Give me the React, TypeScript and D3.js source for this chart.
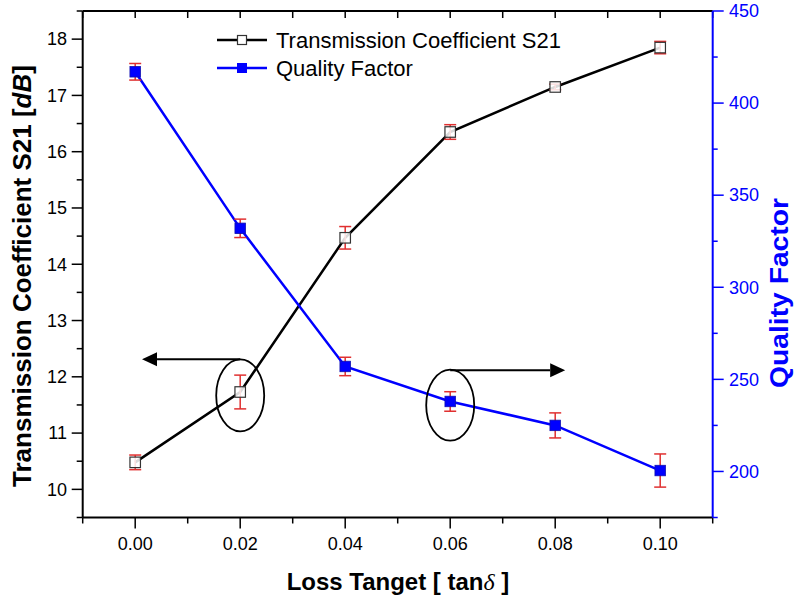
import React from "react";
import * as d3 from "d3";

// ---- data ----
const lossTangent = [0, 0.02, 0.04, 0.06, 0.08, 0.1];
const s21 = [10.48, 11.73, 14.47, 16.35, 17.15, 17.85];
const s21Err = [0.13, 0.3, 0.2, 0.13, 0.05, 0.11];
const qFactor = [417, 332, 257, 238, 225, 200.5];
const qErr = [4.5, 5, 5, 5.3, 6.8, 9];

const xMajor = [0, 0.02, 0.04, 0.06, 0.08, 0.1];
const xLabels = ["0.00", "0.02", "0.04", "0.06", "0.08", "0.10"];
const xMinor = [-0.01, 0.01, 0.03, 0.05, 0.07, 0.09, 0.11];
const leftMajor = [10, 11, 12, 13, 14, 15, 16, 17, 18];
const leftMinor = [9.5, 10.5, 11.5, 12.5, 13.5, 14.5, 15.5, 16.5, 17.5, 18.5];
const rightMajor = [200, 250, 300, 350, 400, 450];
const rightMinor = [175, 225, 275, 325, 375, 425];

// annotations: ellipse around a point, arrow pointing to its axis
const annS21 = { x: 0.02, cy: 11.67, ry: 0.64, arrowY: 12.31, tipX: 0.0013 };
const annQ = { x: 0.06, cy: 236, ry: 19.3, arrowY: 255, tipX: 0.0819 };

const FONT = "'Liberation Sans', Arial, Helvetica, sans-serif";
const BLUE = "#0000ff";
const RED = "#e03030";

export default function App() {
  const L = 82.7, R = 712.7, T = 11, B = 517.5;
  const x = d3.scaleLinear().domain([-0.01, 0.11]).range([L, R]);
  const yL = d3.scaleLinear().domain([9.5, 18.5]).range([B, T]);
  const yR = d3.scaleLinear().domain([175, 450]).range([B, T]);

  const lineS = d3.line<number>().x((_, i) => x(lossTangent[i])).y((d) => yL(d));
  const lineQ = d3.line<number>().x((_, i) => x(lossTangent[i])).y((d) => yR(d));

  const cap = 6;
  const ms = 10.5;

  const arrow = (x0: number, y0: number, tip: number, color: string) => {
    const dir = tip < x0 ? -1 : 1;
    const base = tip - dir * 15;
    return (
      <g>
        <line x1={x0} y1={y0} x2={base} y2={y0} stroke={color} strokeWidth={2} />
        <path d={`M${tip},${y0} L${base},${y0 - 7} L${base},${y0 + 7} Z`} fill={color} />
      </g>
    );
  };

  return (
    <svg width={800} height={600} style={{ position: "absolute", left: 0, top: 0, background: "#fff" }} fontFamily={FONT}>
      <rect x={0} y={0} width={800} height={600} fill="#fff" />
      {/* top frame with inward ticks */}
      <line x1={L} y1={T} x2={R} y2={T} stroke="#000" strokeWidth={2} />
      {[...xMajor, ...xMinor].map((v, i) => (
        <line key={"tt" + i} x1={x(v)} x2={x(v)} y1={T} y2={T + 7} stroke="#000" strokeWidth={1.5} />
      ))}
      {/* bottom axis */}
      <line x1={L} y1={B} x2={R} y2={B} stroke="#000" strokeWidth={2} />
      {xMajor.map((v, i) => (
        <g key={"xm" + i}>
          <line x1={x(v)} x2={x(v)} y1={B} y2={B + 11} stroke="#000" strokeWidth={1.5} />
          <text x={x(v)} y={550} textAnchor="middle" fontSize={18} fill="#000">{xLabels[i]}</text>
        </g>
      ))}
      {xMinor.map((v, i) => (
        <line key={"xn" + i} x1={x(v)} x2={x(v)} y1={B} y2={B + 6} stroke="#000" strokeWidth={1.5} />
      ))}
      {/* left axis */}
      <line x1={L} y1={T} x2={L} y2={B} stroke="#000" strokeWidth={2} />
      {leftMajor.map((v, i) => (
        <g key={"lm" + i}>
          <line x1={L - 11} x2={L} y1={yL(v)} y2={yL(v)} stroke="#000" strokeWidth={1.5} />
          <text x={67} y={yL(v)} dy="0.35em" textAnchor="end" fontSize={18} fill="#000">{v}</text>
        </g>
      ))}
      {leftMinor.map((v, i) => (
        <line key={"ln" + i} x1={L - 6} x2={L} y1={yL(v)} y2={yL(v)} stroke="#000" strokeWidth={1.5} />
      ))}
      {/* right axis */}
      <line x1={R} y1={T} x2={R} y2={B} stroke={BLUE} strokeWidth={2} />
      {rightMajor.map((v, i) => (
        <g key={"rm" + i}>
          <line x1={R} x2={R + 11} y1={yR(v)} y2={yR(v)} stroke={BLUE} strokeWidth={1.5} />
          <text x={729} y={yR(v)} dy="0.35em" textAnchor="start" fontSize={18} fill={BLUE}>{v}</text>
        </g>
      ))}
      {rightMinor.map((v, i) => (
        <line key={"rn" + i} x1={R} x2={R + 5} y1={yR(v)} y2={yR(v)} stroke={BLUE} strokeWidth={1.5} />
      ))}

      {/* axis titles */}
      <text transform={`translate(31,${276}) rotate(-90)`} textAnchor="middle" fontSize={26} fontWeight="bold" fill="#000">
        Transmission Coefficient S21 [<tspan fontStyle="italic">dB</tspan>]
      </text>
      <text x={398} y={590} textAnchor="middle" fontSize={24} fontWeight="bold" fill="#000">
        Loss Tanget [ tan<tspan fontFamily="'Liberation Serif', serif" fontStyle="italic" fontWeight="normal">δ</tspan> ]
      </text>
      <text transform={`translate(788,${293}) rotate(-90)`} textAnchor="middle" fontSize={26} fontWeight="bold" fill={BLUE} textLength={190} lengthAdjust="spacingAndGlyphs">
        Quality Factor
      </text>

      {/* lines */}
      <path d={lineS(s21) || ""} fill="none" stroke="#000" strokeWidth={2.5} />
      <path d={lineQ(qFactor) || ""} fill="none" stroke={BLUE} strokeWidth={2.5} />

      {/* error bars */}
      {s21.map((v, i) => {
        const cx = x(lossTangent[i]);
        return (
          <g key={"es" + i} stroke={RED} strokeWidth={1.5}>
            <line x1={cx} x2={cx} y1={yL(v - s21Err[i])} y2={yL(v + s21Err[i])} />
            <line x1={cx - cap} x2={cx + cap} y1={yL(v - s21Err[i])} y2={yL(v - s21Err[i])} />
            <line x1={cx - cap} x2={cx + cap} y1={yL(v + s21Err[i])} y2={yL(v + s21Err[i])} />
          </g>
        );
      })}
      {qFactor.map((v, i) => {
        const cx = x(lossTangent[i]);
        return (
          <g key={"eq" + i} stroke={RED} strokeWidth={1.5}>
            <line x1={cx} x2={cx} y1={yR(v - qErr[i])} y2={yR(v + qErr[i])} />
            <line x1={cx - cap} x2={cx + cap} y1={yR(v - qErr[i])} y2={yR(v - qErr[i])} />
            <line x1={cx - cap} x2={cx + cap} y1={yR(v + qErr[i])} y2={yR(v + qErr[i])} />
          </g>
        );
      })}

      {/* markers */}
      {s21.map((v, i) => (
        <rect key={"ms" + i} x={x(lossTangent[i]) - ms / 2} y={yL(v) - ms / 2} width={ms} height={ms} fill="#fff" fillOpacity={0.85} stroke="#333" strokeWidth={1.2} />
      ))}
      {qFactor.map((v, i) => (
        <rect key={"mq" + i} x={x(lossTangent[i]) - ms / 2} y={yR(v) - ms / 2} width={ms} height={ms} fill={BLUE} stroke="#1010b0" strokeWidth={0.8} />
      ))}

      {/* annotations */}
      <ellipse cx={x(annS21.x)} cy={yL(annS21.cy)} rx={24} ry={yL(annS21.cy - annS21.ry) - yL(annS21.cy)} fill="none" stroke="#000" strokeWidth={1.8} />
      {arrow(x(annS21.x), yL(annS21.arrowY), x(annS21.tipX), "#000")}
      <ellipse cx={x(annQ.x)} cy={yR(annQ.cy)} rx={24} ry={yR(annQ.cy - annQ.ry) - yR(annQ.cy)} fill="none" stroke="#000" strokeWidth={1.8} />
      {arrow(x(annQ.x), yR(annQ.arrowY), x(annQ.tipX), "#000")}

      {/* legend */}
      <line x1={217} x2={267} y1={40} y2={40} stroke="#000" strokeWidth={2.5} />
      <rect x={242 - 4.5} y={40 - 4.5} width={9} height={9} fill="#fff" stroke="#333" strokeWidth={1.2} />
      <text x={276} y={47.5} fontSize={22} fill="#000">Transmission Coefficient S21</text>
      <line x1={217} x2={267} y1={68} y2={68} stroke={BLUE} strokeWidth={2.5} />
      <rect x={242 - 5} y={68 - 5} width={10} height={10} fill={BLUE} />
      <text x={276} y={75.5} fontSize={22} fill="#000">Quality Factor</text>
    </svg>
  );
}
